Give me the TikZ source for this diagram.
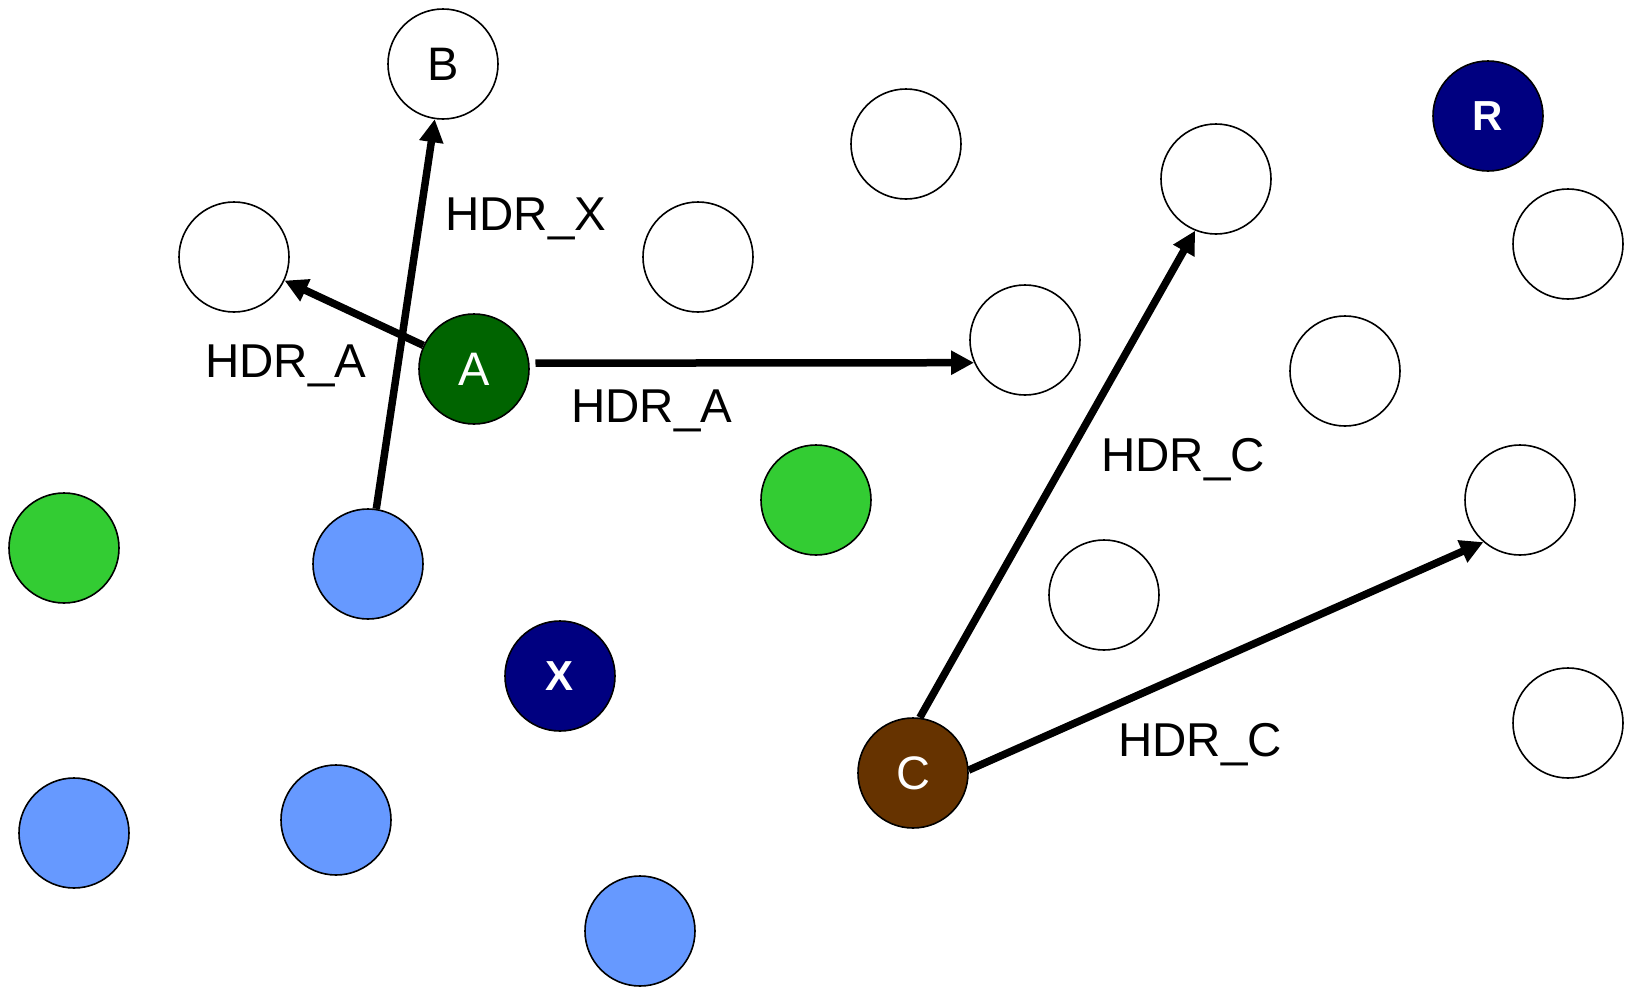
\documentclass[tikz,border=0pt]{standalone}
\usepackage{fontspec}
\setmainfont{Liberation Sans}
\usetikzlibrary{arrows.meta}
\definecolor{srcgreen}{HTML}{006400}
\definecolor{litegreen}{HTML}{33CC33}
\definecolor{peerblue}{HTML}{6699FF}
\definecolor{navy}{HTML}{000080}
\definecolor{brown}{HTML}{663300}
\begin{document}
\begin{tikzpicture}[x=1pt,y=-1pt,
  peer/.style={circle,draw=black,line width=1.6pt,minimum size=110pt,inner sep=0pt,
    fill=white,font=\fontsize{47}{47}\selectfont},
  boldpeer/.style={peer,text=white,font=\fontsize{42}{42}\selectfont\bfseries},
  lbl/.style={anchor=base west,inner sep=0pt,font=\fontsize{47.5}{47.5}\selectfont},
  arr/.style={line width=7.5pt,-{Triangle[length=23pt,width=23pt]}}]
\useasboundingbox (0,0) rectangle (1626,988);

% named peers
\node[peer] (B) at (443,64) {B};
\node[peer,fill=srcgreen,text=white] (A) at (474,369) {A};
\node[peer,fill=brown,text=white] (C) at (913,773) {C};
\node[boldpeer,fill=navy] (R) at (1488,116) {R};
\node[boldpeer,fill=navy] (X) at (560,676) {X};

% empty peers
\node[peer] (e1) at (234,257) {};
\node[peer] (e2) at (698,257) {};
\node[peer] (e3) at (906,144) {};
\node[peer] (e4) at (1025,340) {};
\node[peer] (e5) at (1216,179) {};
\node[peer] (e6) at (1568,244) {};
\node[peer] (e7) at (1345,371) {};
\node[peer] (e8) at (1520,500) {};
\node[peer] (e9) at (1568,723) {};
\node[peer] (e10) at (1104,595) {};

% coloured peers
\node[peer,fill=litegreen] (g1) at (816,500) {};
\node[peer,fill=litegreen] (g2) at (64,548) {};
\node[peer,fill=peerblue] (b1) at (368,564) {};
\node[peer,fill=peerblue] (b2) at (74,833) {};
\node[peer,fill=peerblue] (b3) at (336,820) {};
\node[peer,fill=peerblue] (b4) at (640,931) {};

% forwarded headers
\draw[arr] (b1) -- (B);
\draw[arr] (A) -- (e1);
\draw[arr] ([xshift=6pt]A.6) -- (e4.204);
\draw[arr] (C.83) -- (e5.248);
\draw[arr] (C.3) -- (e8.229);

% header labels
\node[lbl] (lx) at (445,230) {HDR\_X};
\node[lbl] (la1) at (205,377) {HDR\_A};
\node[lbl] (la2) at (571,422) {HDR\_A};
\node[lbl] (lc1) at (1101,471) {HDR\_C};
\node[lbl] (lc2) at (1118,756) {HDR\_C};
\end{tikzpicture}
\end{document}
